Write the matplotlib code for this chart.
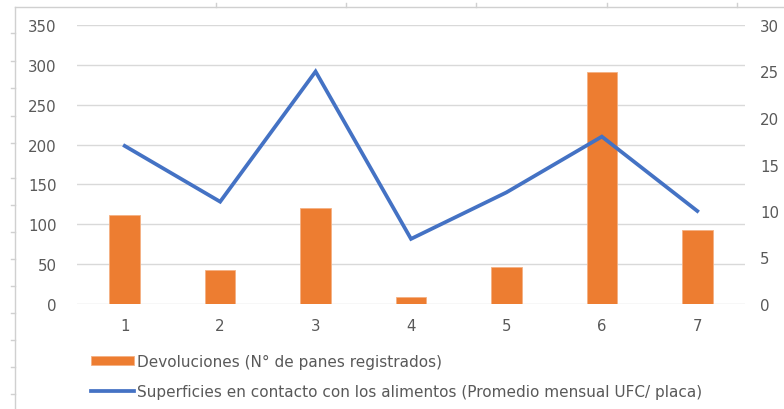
import matplotlib
matplotlib.use("Agg")
import matplotlib.pyplot as plt
from matplotlib.lines import Line2D
from matplotlib.patches import Patch

categories = ["1", "2", "3", "4", "5", "6", "7"]
devoluciones = [112, 43, 120, 9, 46, 291, 93]
superficies = [17, 11, 25, 7, 12, 18, 10]
left_ticks = [0, 50, 100, 150, 200, 250, 300, 350]
right_ticks = [0, 5, 10, 15, 20, 25, 30]
label_bar = "Devoluciones (N° de panes registrados)"
label_line = "Superficies en contacto con los alimentos (Promedio mensual UFC/ placa)"

ORANGE = "#ED7D31"
BLUE = "#4472C4"
GRID = "#D9D9D9"
TXT = "#595959"
FONT = "DejaVu Sans"
FS_TICK = 10.8
FS_LEG = 11.0

plt.rcParams["font.family"] = [FONT]

fig = plt.figure(figsize=(7.84, 4.10), dpi=100)
W, H = 784, 410
ax = fig.add_axes([77 / W, 1 - 305 / H, (745 - 77) / W, (305 - 26) / H])

x = list(range(len(categories)))
ax.bar(x, devoluciones, width=0.32, color=ORANGE, edgecolor="#F4B183", linewidth=0.6, zorder=2)
ax.set_xlim(-0.5, len(categories) - 0.5)
ax.set_ylim(0, 350)
ax.set_yticks(left_ticks)
ax.set_xticks(x)
ax.set_xticklabels(categories)
ax.grid(axis="y", color=GRID, linewidth=1.0, zorder=0)
ax.set_axisbelow(True)
for s in ax.spines.values():
    s.set_visible(False)
ax.tick_params(axis="both", length=0, colors=TXT, labelsize=FS_TICK)
ax.tick_params(axis="y", pad=14.5)
ax.tick_params(axis="x", pad=10)

ax2 = ax.twinx()
ax2.plot(x, superficies, color=BLUE, linewidth=2.7, solid_joinstyle="miter", zorder=3)
ax2.set_ylim(0, 30)
ax2.set_yticks(right_ticks)
for s in ax2.spines.values():
    s.set_visible(False)
ax2.tick_params(axis="y", length=0, colors=TXT, labelsize=FS_TICK, pad=11)

handles = [Patch(facecolor=ORANGE, edgecolor="#F4B183", linewidth=0.6),
           Line2D([0], [0], color=BLUE, linewidth=2.7)]
fig.legend(handles, [label_bar, label_line], loc="upper left",
           bbox_to_anchor=(91 / W, 1 - 355 / H), frameon=False,
           fontsize=FS_LEG, labelcolor=TXT, handlelength=2.8, handleheight=0.5,
           handletextpad=0.2, labelspacing=1.0, borderaxespad=0, borderpad=0)

# spreadsheet cell borders
fig.add_artist(Line2D([15 / W, 1.0], [1 - 8 / H, 1 - 8 / H], color="#D0D0D0", linewidth=1.0))
fig.add_artist(Line2D([15 / W, 15 / W], [0, 1 - 8 / H], color="#D0D0D0", linewidth=1.0))
for tx in [216, 346, 476, 607, 737]:
    fig.add_artist(Line2D([tx / W, tx / W], [1 - 8 / H, 1 - 4 / H], color="#D0D0D0", linewidth=1.0))
for ty in [34, 62, 89, 117, 144, 179, 206, 233, 260, 287, 314, 341, 368, 395]:
    fig.add_artist(Line2D([11 / W, 15 / W], [1 - ty / H, 1 - ty / H], color="#D0D0D0", linewidth=1.0))

fig.savefig("out.png", dpi=100, facecolor="white")
